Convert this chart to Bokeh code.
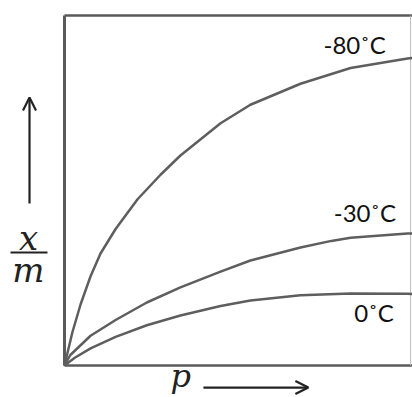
from bokeh.plotting import figure
from bokeh.models import Range1d, Arrow, OpenHead, ColumnDataSource
from bokeh.core.properties import value
from bokeh.embed import file_html
from bokeh.resources import INLINE

# pressure (arbitrary units) and x/m
p80_x = [0, 0.23, 0.47, 0.76, 1.05, 1.49, 2.13, 2.8, 3.38, 4.55, 5.42, 6.88, 8.34, 10, 10.15]
p80_y = [0, 0.95, 1.75, 2.55, 3.20, 3.90, 4.75, 5.45, 6.00, 6.92, 7.45, 8.05, 8.50, 8.77, 8.79]

p30_x = [0, 0.17, 0.76, 1.49, 2.4, 3.38, 4.55, 5.42, 6.88, 7.78, 8.34, 10, 10.15]
p30_y = [0, 0.30, 0.85, 1.30, 1.80, 2.23, 2.68, 3.00, 3.37, 3.56, 3.65, 3.77, 3.77]

p0_x = [0, 0.3, 0.76, 1.49, 2.4, 3.38, 4.55, 5.42, 6.88, 8.34, 10, 10.15]
p0_y = [0, 0.22, 0.49, 0.82, 1.15, 1.43, 1.70, 1.86, 2.01, 2.06, 2.05, 2.04]

curve_labels = ["-80\u02daC", "-30\u02daC", "0\u02daC"]
label_x = [7.55, 7.85, 8.45]
label_y = [9.16, 4.38, 1.52]

X_MIN, X_MAX = -64 / 34.3, 348 / 34.3
Y_MIN, Y_MAX = -32 / 35, 365 / 35

p = figure(width=412, height=397, output_backend="svg", toolbar_location=None,
           x_range=Range1d(X_MIN, X_MAX), y_range=Range1d(Y_MIN, Y_MAX),
           min_border=0)
p.axis.visible = False
p.grid.visible = False
p.outline_line_color = None
p.background_fill_color = "white"
p.border_fill_color = "white"

box_color = "#5a5a5a"
# frame of the diagram
p.line([0, X_MAX], [10, 10], line_color=box_color, line_width=2.5)
p.line([0, X_MAX], [0, 0], line_color=box_color, line_width=2.5)
p.line([0, 0], [0, 10], line_color=box_color, line_width=3)
p.line([10.09, 10.09], [0, 10], line_color="#bdbdbd", line_width=1)

curve_color = "#5e5e5e"
for xs, ys in [(p80_x, p80_y), (p30_x, p30_y), (p0_x, p0_y)]:
    p.line(xs, ys, line_color=curve_color, line_width=2.5, line_join="round")

src = ColumnDataSource(dict(x=label_x, y=label_y, t=curve_labels))
p.text(x="x", y="y", text="t", source=src, text_font=value("Lato"),
       text_font_size="24px", text_color="#111111", text_align="left",
       text_baseline="alphabetic")

serif = value("DejaVu Serif")
# y-axis annotation: up arrow and x/m fraction
p.add_layout(Arrow(end=OpenHead(size=13, line_width=2.2, line_color="#222222"),
                   x_start=-1.02, y_start=4.63, x_end=-1.02, y_end=7.66,
                   line_width=2.2, line_color="#222222"))
p.text(x=[-1.05], y=[3.63], text=["x"], text_font=serif, text_font_style="italic",
       text_font_size="34px", text_color="#222222", text_align="center",
       text_baseline="alphabetic")
p.segment(x0=[-1.574], y0=[3.23], x1=[-0.496], y1=[3.23], line_width=2,
          line_color="#222222")
p.text(x=[-1.05], y=[2.72], text=["m"], text_font=serif, text_font_style="italic",
       text_font_size="34px", text_color="#222222", text_align="center",
       text_baseline="alphabetic")

# x-axis annotation: p and right arrow
p.text(x=[3.09], y=[-0.30], text=["p"], text_font=serif, text_font_style="italic",
       text_font_size="32px", text_color="#222222", text_align="left",
       text_baseline="alphabetic")
p.add_layout(Arrow(end=OpenHead(size=13, line_width=2.2, line_color="#222222"),
                   x_start=4.05, y_start=-0.63, x_end=7.11, y_end=-0.63,
                   line_width=2.2, line_color="#222222"))

open("out.html", "w").write(file_html(p, INLINE))
